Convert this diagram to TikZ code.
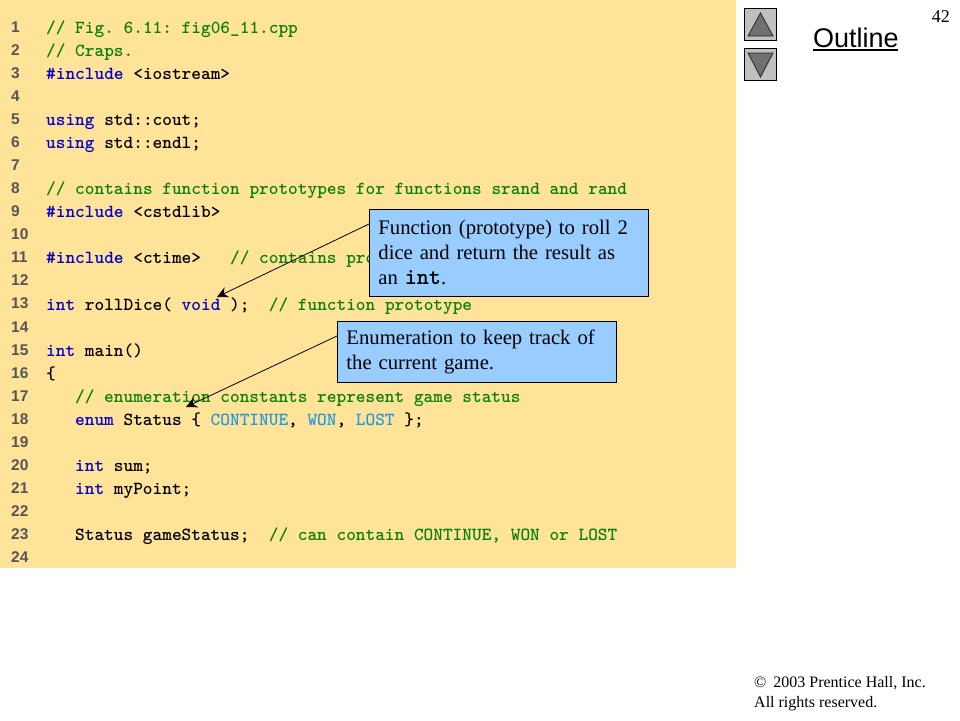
\documentclass[tikz,border=0pt]{standalone}
\usepackage{fontspec}
\setmainfont{Liberation Serif}
\newfontfamily\arialfont{Liberation Sans}
\definecolor{slidebg}{HTML}{FFE399}
\definecolor{boxblue}{HTML}{99CCFF}
\definecolor{cmgreen}{HTML}{0A7F0A}
\definecolor{kwblue}{HTML}{0000CC}
\definecolor{cnblue}{HTML}{1E9BE0}
\definecolor{numgray}{HTML}{555555}
\definecolor{btngray}{HTML}{C0C0C0}
\definecolor{trigray}{HTML}{707070}
\newcommand{\cmt}[1]{\textcolor{cmgreen}{#1}}
\newcommand{\kw}[1]{\textcolor{kwblue}{#1}}
\newcommand{\cn}[1]{\textcolor{cnblue}{#1}}
\usetikzlibrary{arrows.meta}
\tikzset{
  x=1pt,y=-1pt,
  codeline/.style={anchor=base west,inner sep=0pt,font=\fontsize{18.44}{20}\ttfamily\bfseries\frenchspacing},
  linenum/.style={anchor=base west,inner sep=0pt,text=numgray,font=\fontsize{15.5}{17}\arialfont\bfseries},
  callout/.style={draw=black,line width=0.8pt,fill=boxblue,anchor=north west,inner xsep=9pt,inner ysep=0pt,align=left,text width=261pt,
    font=\fontsize{20.7}{25}\selectfont},
  pointer/.style={draw=black,line width=0.8pt,-{Stealth[length=11pt,width=11pt]}},
  btn/.style={draw=black,line width=0.8pt,fill=btngray},
  tri/.style={draw=black!85,line width=0.8pt,fill=trigray}
}
\begin{document}
\begin{tikzpicture}
\useasboundingbox (0,0) rectangle (960,720);
\fill[white] (0,0) rectangle (960,720);
\fill[slidebg] (0,0) rectangle (736,568);
% line numbers
\foreach \n in {1,...,24}{
  \node[linenum] (n\n) at (11,{32.5+(\n-1)*23.04}) {\n};
}
% code
\node[codeline] (c1) at (46,33.5) {\cmt{// Fig. 6.11: fig06\_11.cpp}};
\node[codeline] (c2) at (46,56.5) {\cmt{// Craps.}};
\node[codeline] (c3) at (46,79.5) {\kw{\#include} <iostream>};
\node[codeline] (c5) at (46,125.7) {\kw{using} std::cout;};
\node[codeline] (c6) at (46,148.7) {\kw{using} std::endl;};
\node[codeline] (c8) at (46,194.8) {\cmt{// contains function prototypes for functions srand and rand}};
\node[codeline] (c9) at (46,217.8) {\kw{\#include} <cstdlib>};
\node[codeline] (c11) at (46,263.9) {\kw{\#include} <ctime>~~~\cmt{// contains pro}};
\node[codeline] (c13) at (46,310) {\kw{int} rollDice( \kw{void} );~~\cmt{// function prototype}};
\node[codeline] (c15) at (46,356.1) {\kw{int} main()};
\node[codeline] (c16) at (46,379.1) {\{};
\node[codeline] (c17) at (75,402.2) {\cmt{// enumeration constants represent game status}};
\node[codeline] (c18) at (75,425.2) {\kw{enum} Status \{ \cn{CONTINUE}, \cn{WON}, \cn{LOST} \};};
\node[codeline] (c20) at (75,471.3) {\kw{int} sum;};
\node[codeline] (c21) at (75,494.3) {\kw{int} myPoint;};
\node[codeline] (c23) at (75,540.4) {Status gameStatus;~~\cmt{// can contain CONTINUE, WON or LOST}};
% callouts
\coordinate (s1) at (369,224);
\coordinate (t1) at (217,297);
\coordinate (s2) at (337,336);
\coordinate (t2) at (186,407);
\draw[pointer] (s1) -- (t1);
\draw[pointer] (s2) -- (t2);
\node[callout,minimum height=87pt] (b1) at (369,209) {Function (prototype) to roll 2\\dice and return the result as\\an {\fontsize{23}{25}\ttfamily\bfseries int}.};
\node[callout,minimum height=61pt] (b2) at (337,321) {Enumeration to keep track of\\the current game.};
% nav buttons
\draw[btn] (744.5,8.5) rectangle (776.5,40.5);
\draw[tri] (760.5,13) -- (773,36) -- (748,36) -- cycle;
\draw[btn] (744.5,48.5) rectangle (776.5,80.5);
\draw[tri] (748,53) -- (773,53) -- (760.5,77) -- cycle;
% texts
\node[anchor=base west,inner sep=0pt,font=\fontsize{27}{30}\arialfont] (outline) at (813,47) {\rlap{\rule[-3.5pt]{85pt}{2pt}}Outline};
\node[anchor=base east,inner sep=0pt,font=\fontsize{18}{20}\selectfont] (page) at (950,22) {42};
\node[anchor=base west,inner sep=0pt,font=\fontsize{16}{18}\selectfont] (copy1) at (754,687) {\textcopyright\hspace{3pt}\ 2003 Prentice Hall, Inc.};
\node[anchor=base west,inner sep=0pt,font=\fontsize{16}{18}\selectfont] (copy2) at (754,707) {All rights reserved.};
\end{tikzpicture}
\end{document}
